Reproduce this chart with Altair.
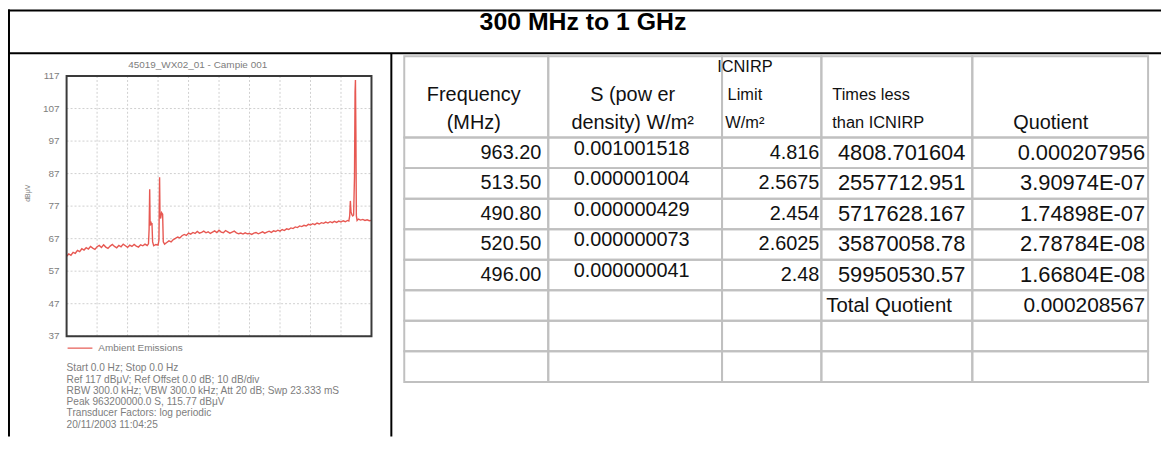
import altair as alt
import pandas as pd

# ------------------------------------------------------------------ data
PAGE_TITLE = "300 MHz to 1 GHz"
CHART_TITLE = "45019_WX02_01 - Campie 001"
Y_TITLE = "dBμV"
SERIES = "Ambient Emissions"

FREQ_MHZ = [
    300, 305, 310, 315, 320, 325, 330, 335, 340, 345, 350, 355, 360, 365, 370,
    375, 380, 385, 390, 395, 400, 405, 410, 415, 420, 425, 430, 435, 440, 445,
    450, 455, 460, 465, 470, 475, 480, 485, 488, 489.5, 490.8, 491.8, 493, 495,
    496, 497.5, 500, 505, 510, 512, 513.5, 514.5, 516, 518, 520.5, 522, 525,
    530, 535, 540, 545, 550, 555, 560, 565, 570, 575, 580, 585, 590, 595, 600,
    605, 610, 615, 620, 625, 630, 635, 640, 645, 650, 655, 660, 665, 670, 675,
    680, 685, 690, 695, 700, 705, 710, 715, 720, 725, 730, 735, 740, 745, 750,
    755, 760, 765, 770, 775, 780, 785, 790, 795, 800, 805, 810, 815, 820, 825,
    830, 835, 840, 845, 850, 855, 860, 865, 870, 875, 880, 885, 890, 895, 900,
    905, 910, 915, 920, 925, 930, 935, 940, 945, 948, 950, 951.5, 953, 955,
    957, 959, 961, 962.3, 963.2, 964.2, 965.3, 967, 970, 975, 980, 985, 990,
    995, 1000,
]
LEVEL_DBUV = [
    61.6, 62.3, 61.9, 62.8, 62.5, 63.4, 63.0, 63.9, 63.5, 64.2, 63.8, 64.6, 64.1, 63.7, 64.5,
    64.9, 64.3, 65.1, 64.4, 64.0, 64.7, 65.2, 64.6, 64.2, 64.9, 64.5, 65.3, 64.8, 64.3, 65.0,
    64.6, 65.2, 64.7, 64.4, 65.1, 64.8, 65.3, 64.9, 65.4, 70.0, 82.2, 71.0, 72.3, 71.5,
    71.8, 66.0, 64.8, 65.2, 65.0, 66.5, 85.9, 74.0, 73.2, 75.0, 74.5, 66.0, 65.3,
    65.8, 66.3, 66.0, 66.7, 67.1, 67.5, 67.2, 67.9, 68.3, 68.0, 68.7, 68.4, 68.9, 68.6, 69.2,
    68.7, 68.9, 69.3, 68.8, 69.1, 68.6, 69.0, 69.4, 68.9, 69.6, 69.0, 68.8, 69.5, 69.1, 68.7,
    69.0, 69.3, 68.8, 68.5, 68.7, 68.4, 68.8, 68.5, 68.6, 68.3, 68.7, 68.9, 68.5, 68.8, 69.1,
    68.7, 69.0, 69.3, 68.9, 69.4, 69.2, 69.6, 69.3, 69.8, 69.5, 70.0, 69.8, 70.3, 70.1, 70.6,
    70.4, 70.9, 70.7, 71.1, 70.9, 71.4, 71.2, 71.6, 71.3, 71.8, 71.5, 71.9, 71.7, 72.1, 71.8,
    72.2, 71.9, 72.3, 72.0, 72.4, 72.1, 72.5, 72.2, 72.6, 72.4, 74.0, 78.6, 75.2, 74.4,
    74.0, 74.3, 86.0, 112.0, 115.77, 100.0, 74.0, 72.6, 73.0, 72.7, 72.9, 72.6, 72.8,
    72.5, 72.6,
]
Y_TICKS = [117, 107, 97, 87, 77, 67, 57, 47, 37]
X_GRID_MHZ = [370, 440, 510, 580, 650, 720, 790, 860, 930]

INFO_LINES = [
    "Start 0.0 Hz; Stop 0.0 Hz",
    "Ref 117 dBμV; Ref Offset 0.0 dB; 10 dB/div",
    "RBW 300.0 kHz; VBW 300.0 kHz; Att 20 dB; Swp 23.333 mS",
    "Peak 963200000.0 S, 115.77 dBμV",
    "Transducer Factors: log periodic",
    "20/11/2003 11:04:25",
]

HEADERS = [
    ["Frequency", "(MHz)"],
    ["S (pow er", "density) W/m²"],
    ["ICNIRP", "Limit", "W/m²"],
    ["Times less", "than ICNIRP"],
    ["Quotient"],
]
FREQ_COL = ["963.20", "513.50", "490.80", "520.50", "496.00"]
S_COL = ["0.001001518", "0.000001004", "0.000000429", "0.000000073", "0.000000041"]
LIMIT_COL = ["4.816", "2.5675", "2.454", "2.6025", "2.48"]
TIMES_COL = ["4808.701604", "2557712.951", "5717628.167", "35870058.78", "59950530.57"]
QUOT_COL = ["0.000207956", "3.90974E-07", "1.74898E-07", "2.78784E-08", "1.66804E-08"]
TOTAL_LABEL = "Total Quotient"
TOTAL_VALUE = "0.000208567"

# ------------------------------------------------------------------ layout / style
OFF = 8
W, H = 1161, 430
def rx(x): return x - OFF
def ry(y): return y - OFF

FONT = "Liberation Sans, Arial, sans-serif"
GRAY = "#7d7d7d"
RED = "#e4463f"
INK = "#111111"
GRID = "#d0d0d0"
CELL = "#c0c0c0"

PLOT_L, PLOT_R, PLOT_T, PLOT_B = rx(67), rx(374), ry(75), ry(337)

COL_EDGES = [rx(v) for v in [407, 552, 727, 827, 979, 1156]]
ROW_EDGES = [ry(55)] + [ry(137 + 30.75 * k) for k in range(9)]
HEAD_BOTTOM, HEAD_STEP = ry(122), 28
# (x anchor, align, font size) of each header column
HEAD_STYLE = [(rx(477), "center", 20), (rx(637), "center", 20),
              (rx(750), "center", 16.5), (rx(838), "left", 16.5),
              (rx(1058), "center", 20)]
# (x anchor, align, vertical shift, font size) of each body column
BODY_STYLE = [(rx(545), "right", 0, 20), (rx(636), "center", -4, 20),
              (rx(825), "right", 0, 20), (rx(972), "right", 0, 22),
              (rx(1153), "right", 0, 22)]

ONE = alt.Data(values=[{"k": 0}])

# ------------------------------------------------------------------ spectrum
spec_df = pd.DataFrame({"freq": FREQ_MHZ, "level": LEVEL_DBUV,
                        "series": [SERIES] * len(FREQ_MHZ)})
xs = alt.Scale(domain=[300, 1000], range=[PLOT_L, PLOT_R], nice=False, zero=False)
ys = alt.Scale(domain=[37, 117], range=[PLOT_B, PLOT_T], nice=False, zero=False)

vgrid = alt.Chart(pd.DataFrame({"freq": X_GRID_MHZ})).mark_rule(
    color=GRID, strokeDash=[2, 2], strokeWidth=1
).encode(x=alt.X("freq:Q", scale=xs, axis=None),
         y=alt.value(PLOT_T), y2=alt.value(PLOT_B))

hgrid = alt.Chart(pd.DataFrame({"level": Y_TICKS})).mark_rule(
    color=GRID, strokeDash=[2, 2], strokeWidth=1
).encode(y=alt.Y("level:Q", scale=ys, axis=None),
         x=alt.value(PLOT_L), x2=alt.value(PLOT_R))

ylabels = alt.Chart(pd.DataFrame({"level": Y_TICKS})).mark_text(
    align="right", baseline="middle", font=FONT, fontSize=10, color=GRAY
).encode(y=alt.Y("level:Q", scale=ys, axis=None), x=alt.value(rx(60)),
         text=alt.Text("level:Q"))

line = alt.Chart(spec_df).mark_line(strokeWidth=1.4, opacity=0.9).encode(
    x=alt.X("freq:Q", scale=xs, axis=None),
    y=alt.Y("level:Q", scale=ys, axis=None),
    color=alt.Color("series:N", scale=alt.Scale(domain=[SERIES], range=[RED]),
                    legend=alt.Legend(orient="none", legendX=PLOT_L, legendY=ry(348) - 12.5,
                                      title=None, symbolType="stroke", symbolSize=625,
                                      symbolStrokeWidth=1.2, labelFontSize=10,
                                      labelColor=GRAY, labelFont=FONT, padding=0,
                                      labelOffset=5)),
)

frame = alt.Chart(ONE).mark_rect(fillOpacity=0, stroke="#3a3a3a", strokeWidth=2).encode(
    x=alt.value(PLOT_L), x2=alt.value(PLOT_R), y=alt.value(PLOT_T), y2=alt.value(PLOT_B))

spectrum = alt.layer(vgrid, hgrid, ylabels, line, frame)

ytitle = alt.Chart(ONE).mark_text(
    text=Y_TITLE, font=FONT, fontSize=7, color=GRAY, align="center", baseline="middle",
    angle=270
).encode(x=alt.value(rx(28)), y=alt.value(ry(193)))

chart_title = alt.Chart(ONE).mark_text(
    text=CHART_TITLE, font=FONT, fontSize=10, color=GRAY, align="center", baseline="middle"
).encode(x=alt.value(rx(199)), y=alt.value(ry(64)))

info = alt.Chart(ONE).mark_text(
    text=INFO_LINES, font=FONT, fontSize=10.2, color=GRAY, align="left", baseline="top",
    lineHeight=11.3
).encode(x=alt.value(PLOT_L), y=alt.value(ry(369) - 4.5))

# ------------------------------------------------------------------ table
cells = []
for r in range(len(ROW_EDGES) - 1):
    for c in range(len(COL_EDGES) - 1):
        cells.append({"x0": COL_EDGES[c], "x1": COL_EDGES[c + 1],
                      "y0": ROW_EDGES[r], "y1": ROW_EDGES[r + 1]})
cell_layer = alt.Chart(pd.DataFrame(cells)).mark_rect(
    fillOpacity=0, stroke=CELL, strokeWidth=2
).encode(x=alt.X("x0:Q", scale=None), x2="x1:Q",
         y=alt.Y("y0:Q", scale=None), y2="y1:Q")

def row_center(i):
    return (ROW_EDGES[i + 1] + ROW_EDGES[i + 2]) / 2

def text_layer(records, align, size):
    return alt.Chart(pd.DataFrame(records)).mark_text(
        align=align, baseline="middle", font=FONT, fontSize=size, color=INK
    ).encode(x=alt.X("x:Q", scale=None), y=alt.Y("y:Q", scale=None), text="t:N")

text_layers = []
for c, lines in enumerate(HEADERS):
    x, align, size = HEAD_STYLE[c]
    n = len(lines)
    recs = [{"x": x, "y": HEAD_BOTTOM - (n - 1 - i) * HEAD_STEP, "t": t}
            for i, t in enumerate(lines)]
    text_layers.append(text_layer(recs, align, size))

cols = [FREQ_COL, S_COL, LIMIT_COL, TIMES_COL, QUOT_COL]
for c, col in enumerate(cols):
    x, align, dy, size = BODY_STYLE[c]
    recs = [{"x": x, "y": row_center(i) + dy, "t": t} for i, t in enumerate(col)]
    text_layers.append(text_layer(recs, align, size))

text_layers.append(text_layer([{"x": rx(832), "y": row_center(5), "t": TOTAL_LABEL}],
                              "left", 20.5))
text_layers.append(text_layer([{"x": rx(1153), "y": row_center(5), "t": TOTAL_VALUE}],
                              "right", 21))

# ------------------------------------------------------------------ frame / title
def hrule(y):
    return alt.Chart(ONE).mark_rule(color="#000000", strokeWidth=2).encode(
        x=alt.value(0), x2=alt.value(W), y=alt.value(y))

def vrule(x, y0):
    return alt.Chart(ONE).mark_rule(color="#000000", strokeWidth=2).encode(
        x=alt.value(x), y=alt.value(y0), y2=alt.value(H))

page_title = alt.Chart(ONE).mark_text(
    text=PAGE_TITLE, font=FONT, fontSize=25, fontWeight="bold", color="#000000",
    align="center", baseline="alphabetic"
).encode(x=alt.value(rx(587)), y=alt.value(ry(28.5)))

chart = alt.layer(
    spectrum, ytitle, chart_title, info, cell_layer, *text_layers,
    hrule(1), hrule(ry(52)), vrule(1, 0), vrule(rx(394), ry(52)), page_title,
).resolve_scale(x="independent", y="independent").properties(
    width=W, height=H, padding=0,
    autosize=alt.AutoSizeParams(type="none"),
).configure_view(strokeWidth=0)

chart.save("out.html", embed_options={"renderer": "svg", "actions": False})
